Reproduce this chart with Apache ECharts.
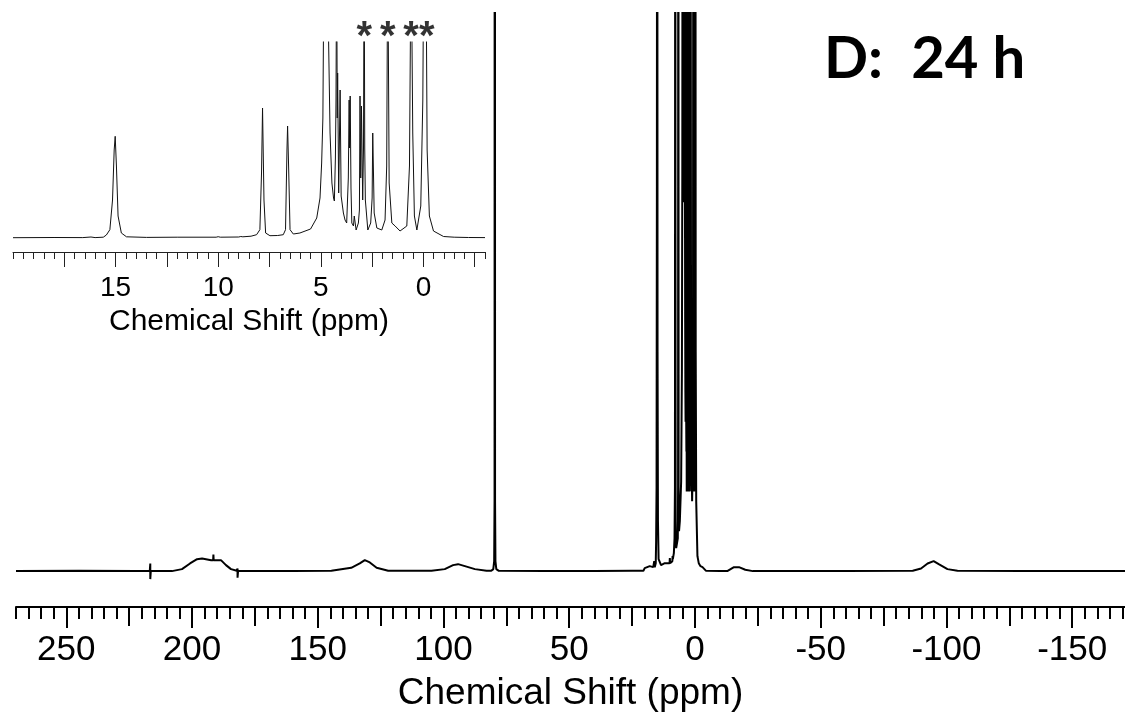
<!DOCTYPE html>
<html><head><meta charset="utf-8">
<script src="https://cdn.jsdelivr.net/npm/echarts@6/dist/echarts.min.js"></script>
<style>html,body{margin:0;padding:0;background:#fff}#c{width:1125px;height:717px}</style>
</head><body><div id="c"></div>
<script>
// ---- tick labels ----
const mainLabelTicks = [250, 200, 150, 100, 50, 0, -50, -100, -150];
const mainMidTicks = [225, 175, 125, 75, 25, -25, -75, -125];
const insetLabelTicks = [15, 10, 5, 0];
const insetLongTicks = [17.5, 15, 12.5, 10, 7.5, 5, 2.5, 0, -2.5];

// ---- spectrum data: [chemical shift (ppm), intensity (a.u.)] ----
// downfield part of the full spectrum (270 -> 20 ppm)
const mainDownfield = [
  [270, 0], [245, 0.03], [222, 0], [216.8, 0], [216.6, 0.77], [216.6, -0.8], [216.4, 0],
  [208, 0], [204, 0.2], [200.8, 0.77], [198, 1.2], [196, 1.27], [192.4, 1.1], [191.6, 1.1],
  [191.5, 1.67], [191.4, 1.1], [188.5, 1.1], [186.5, 0.6], [184.5, 0.2], [182.2, 0.03],
  [181.9, 0.27], [181.9, -0.67], [181.7, 0], [160, 0], [144.6, 0.03], [136.7, 0.33],
  [133.3, 0.77], [131.3, 1.1], [129.3, 0.87], [126.6, 0.33], [122, 0.03], [104.8, 0.03],
  [99.5, 0.2], [96.2, 0.6], [94.2, 0.7], [91.5, 0.5], [87.5, 0.2], [82.9, 0.03], [81, 0.03],
  [80.2, 0.2], [79.85, 1.0], [79.7, 7], [79.6, 200], [79.5, 7], [79.35, 1.0], [79, 0.2],
  [78, 0.03], [60, 0], [40, 0], [25, 0.03], [20.5, 0.03]
];
// region shown in the inset (20 -> -3 ppm), also part of the full spectrum
const insetSpectrum = [
  [20.0, 0.3], [18.0, 0.5], [16.6, 0.4], [16.2, 1.0], [16.0, 0.4], [15.6, 0.8], [15.45, 3],
  [15.28, 8.3], [15.15, 38], [15.07, 88], [15.02, 101.7], [14.96, 72], [14.88, 22], [14.72, 5],
  [14.47, 1.2], [13.5, 0.6], [12.0, 0.8], [10.1, 0.8], [10.0, 1.3], [9.9, 0.8], [9.0, 1.0],
  [8.9, 1.5], [8.8, 1.2], [8.4, 1.8], [8.13, 3.3], [7.97, 8.3], [7.89, 65], [7.84, 130],
  [7.77, 38], [7.69, 5], [7.48, 2.3], [7.1, 2.5], [6.83, 3.3], [6.72, 8.3], [6.65, 88],
  [6.62, 112], [6.57, 72], [6.50, 8.3], [6.34, 4], [6.02, 5], [5.5, 9], [5.2, 20], [5.04, 40],
  [4.96, 75], [4.90, 120], [4.84, 300], [4.70, 300], [4.62, 300], [4.55, 105], [4.46, 55],
  [4.38, 40], [4.34, 37], [4.29, 80], [4.26, 138], [4.23, 300], [4.20, 120], [4.18, 165],
  [4.13, 45], [4.06, 148], [4.01, 42], [3.90, 25], [3.82, 18], [3.74, 15], [3.66, 60],
  [3.62, 138], [3.60, 90], [3.57, 142], [3.53, 50], [3.49, 15], [3.41, 12], [3.37, 22],
  [3.28, 8], [3.17, 15], [3.12, 28], [3.09, 142], [3.055, 60], [3.02, 132], [2.96, 38],
  [2.92, 90], [2.89, 300], [2.86, 90], [2.83, 38], [2.71, 8], [2.57, 15], [2.50, 40],
  [2.47, 105], [2.43, 60], [2.40, 25], [2.27, 10], [2.03, 8], [1.87, 18], [1.79, 72],
  [1.74, 300], [1.67, 55], [1.54, 15], [1.38, 12], [1.14, 7], [0.81, 12], [0.68, 72],
  [0.60, 300], [0.52, 105], [0.44, 22], [0.32, 8], [0.13, 32], [0.03, 138], [-0.02, 300],
  [-0.12, 300], [-0.18, 88], [-0.29, 22], [-0.49, 7], [-0.98, 1.5], [-1.5, 0.8],
  [-2.2, 0.5], [-3.0, 0.4]
];
// upfield part of the full spectrum (-3 -> -171 ppm)
const mainUpfield = [
  [-4.4, 0.03], [-10, 0], [-13, 0.02], [-15.5, 0.4], [-17.5, 0.4], [-20, 0.14], [-23, 0],
  [-60, 0], [-86.6, 0.03], [-89.9, 0.27], [-92.5, 0.77], [-94.9, 1.0], [-97.1, 0.67],
  [-100.4, 0.2], [-104.4, 0.03], [-130, 0], [-171, 0]
];
// peaks marked with an asterisk in the inset
const starredPeaks = [2.88, 1.74, 0.60, -0.16];

const panelTitle = 'D:  24 h';
const axisName = 'Chemical Shift (ppm)';

// ---- build chart ----
const FONT = "'Liberation Sans', Arial, sans-serif";
function stepTicks(lo, hi, step) {
  const out = [];
  for (let v = Math.ceil(lo / step) * step; v <= hi + 1e-9; v += step) out.push(+v.toFixed(3));
  return out;
}
const mainMinorTicks = stepTicks(-171, 270, 5);
const insetMinorTicks = stepTicks(-3, 20, 0.5);

function tickAxis(grid, min, max, ticks, len, width, color, showLine) {
  return {
    type: 'value', gridIndex: grid, inverse: true, min: min, max: max, position: 'bottom',
    axisLine: { show: showLine, onZero: false, lineStyle: { color: color, width: width } },
    axisTick: { show: true, customValues: ticks, length: len, lineStyle: { color: color, width: width } },
    axisLabel: { show: false }, splitLine: { show: false }
  };
}

const chart = echarts.init(document.getElementById('c'), null, { renderer: 'canvas' });
const mainMin = -171, mainMax = 270, insetMin = -3, insetMax = 20;

const mainAxis = tickAxis(0, mainMin, mainMax, mainLabelTicks, 21, 2, '#000', true);
mainAxis.axisLabel = { show: true, customValues: mainLabelTicks, fontSize: 35, fontFamily: FONT, color: '#000', margin: 26 };
mainAxis.name = axisName;
mainAxis.nameLocation = 'middle';
mainAxis.nameGap = 68;
mainAxis.nameTextStyle = { fontSize: 37, fontFamily: FONT, color: '#000' };

const insetAxis = tickAxis(1, insetMin, insetMax, insetLongTicks, 15, 1, '#222', true);
insetAxis.axisLabel = { show: true, customValues: insetLabelTicks, fontSize: 28, fontFamily: FONT, color: '#000', margin: 22 };
insetAxis.name = axisName;
insetAxis.nameLocation = 'middle';
insetAxis.nameGap = 55;
insetAxis.nameTextStyle = { fontSize: 30, fontFamily: FONT, color: '#000' };

chart.setOption({
  animation: false,
  backgroundColor: '#fff',
  grid: [
    { left: 16, right: 0, top: 13, bottom: 108 },
    { left: 13, right: 640, top: 42, bottom: 465 }
  ],
  xAxis: [
    mainAxis,
    tickAxis(0, mainMin, mainMax, mainMidTicks, 19, 2, '#000', false),
    tickAxis(0, mainMin, mainMax, mainMinorTicks, 12, 2, '#000', false),
    insetAxis,
    tickAxis(1, insetMin, insetMax, insetMinorTicks, 7, 1, '#222', false)
  ],
  yAxis: [
    { type: 'value', gridIndex: 0, min: -3.6, max: 56, show: false },
    { type: 'value', gridIndex: 1, min: -14, max: 196, show: false }
  ],
  graphic: [{
    type: 'text', left: 824, top: 30,
    style: { text: panelTitle, font: "bold 58px Lato, 'Open Sans', sans-serif", fill: '#000' }
  }],
  series: [
    {
      type: 'line', xAxisIndex: 0, yAxisIndex: 0, showSymbol: false, clip: true,
      lineStyle: { color: '#000', width: 2 },
      data: mainDownfield.concat(insetSpectrum, mainUpfield)
    },
    {
      type: 'line', xAxisIndex: 3, yAxisIndex: 1, showSymbol: false, clip: true,
      lineStyle: { color: '#111', width: 1 },
      data: insetSpectrum
    },
    {
      type: 'scatter', xAxisIndex: 3, yAxisIndex: 1, symbolSize: 0, clip: false,
      data: starredPeaks.map(p => [p, 196]),
      label: { show: true, position: 'inside', offset: [0, -4], formatter: '*',
        fontSize: 40, fontWeight: 'bold', fontFamily: FONT, color: '#000' }
    }
  ]
});
</script></body></html>
